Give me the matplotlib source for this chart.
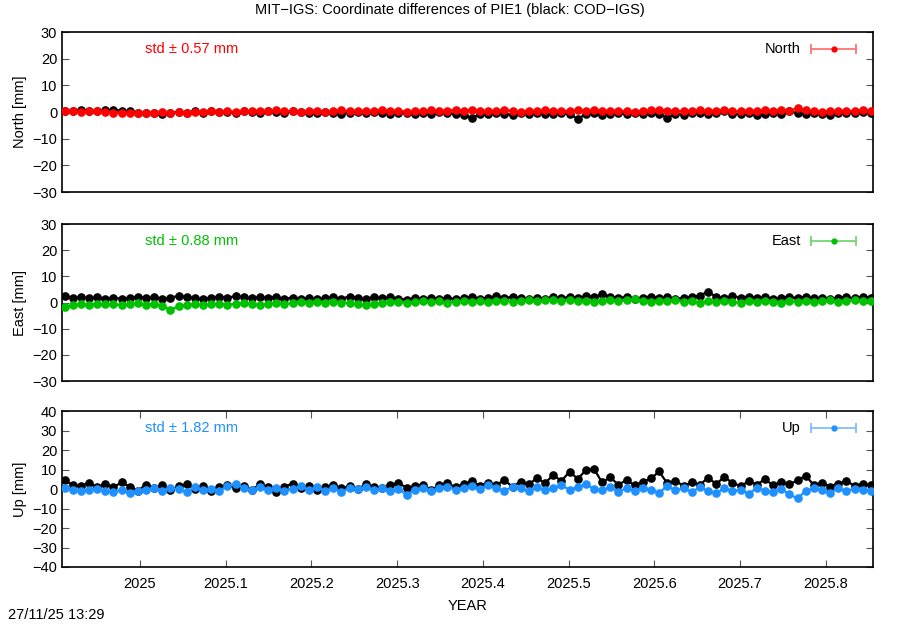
import numpy as np
import matplotlib
matplotlib.use("Agg")
from matplotlib import pyplot as plt

plt.rcParams['font.family'] = ['Liberation Sans', 'DejaVu Sans']

# epochs: regular sampling from start year
t0 = 2024.912
dt = 0.0095
npts = 100

north_mit = [
    0.2, 0.4, -0.1, 0.3, 0.5, 0.1, -0.2, -0.4, -0.3, -0.5,
    -0.2, -0.4, -0.1, -0.3, 0.0, -0.2, 0.1, -0.1, 0.2, 0.0,
    0.3, 0.1, 0.4, 0.2, 0.5, 0.3, 0.6, 0.2, 0.4, 0.1,
    0.5, 0.3, 0.0, 0.4, 0.6, 0.3, 0.5, 0.2, 0.4, 0.7,
    0.3, 0.5, 0.1, 0.4, 0.2, 0.6, 0.3, 0.5, 0.8, 0.4,
    0.6, 0.3, 0.5, 0.2, 0.7, 0.4, 0.1, 0.5, 0.3, 0.6,
    0.4, 0.2, 0.5, 0.7, 0.3, 0.6, 0.4, 0.2, 0.5, 0.3,
    0.1, 0.4, 0.6, 0.9, 0.3, 0.5, 0.2, 0.4, 0.6, 0.3,
    0.5, 0.7, 0.4, 0.2, 0.5, 0.3, 0.6, 0.4, 0.8, 0.5,
    1.4, 0.6, 0.3, 0.1, 0.4, 0.2, 0.5, 0.3, 0.6, 0.4]
north_cod = [
    0.3, 0.5, 0.8, 0.4, 0.2, 0.6, 0.9, 0.4, 0.2, -0.3,
    -0.5, -0.2, -0.6, -0.3, -0.1, -0.4, 0.2, -0.2, 0.3, -0.1,
    0.1, -0.3, 0.4, 0.0, -0.2, 0.3, 0.1, -0.4, 0.2, -0.1,
    -0.5, -0.2, 0.1, -0.3, -0.6, -0.2, 0.0, -0.4, -0.1, -0.3,
    -0.6, -0.2, -0.5, -0.8, -0.3, -0.6, -0.1, -0.4, -0.7, -1.0,
    -2.4, -0.6, -0.9, -0.4, -0.7, -1.1, -0.5, -0.8, -0.3, -0.6,
    -0.9, -0.4, -0.7, -2.6, -0.8, -0.5, -1.0, -0.6, -0.3, -0.8,
    -0.5, -0.9, -0.4, -0.7, -2.2, -0.6, -1.0, -0.5, -0.3, -0.7,
    -0.4, 0.2, -0.6, -0.9, -0.5, -1.2, -0.7, -0.4, -0.8, 0.3,
    -0.5, -0.9, -0.3, -0.6, -1.1, -0.4, -0.2, -0.5, -0.1, -0.3]

east_mit = [
    -1.8, -1.0, -0.6, -0.9, -0.4, -0.7, -0.5, -1.1, -0.6, -0.3,
    -0.8, -0.5, -1.2, -2.8, -1.5, -0.9, -0.6, -1.0, -0.7, -0.4,
    -0.8, -0.5, -0.2, -0.6, -0.9, -0.4, -0.1, -0.5, -0.3, 0.1,
    -0.2, 0.2, -0.1, 0.3, 0.0, -0.3, -0.7, -1.0, -0.5, -0.2,
    0.1, 0.3, -0.1, 0.2, 0.5, 0.1, 0.4, 0.0, 0.3, 0.6,
    0.2, 0.5, 0.1, 0.4, 0.7, 0.3, 0.6, 1.0, 0.5, 0.8,
    1.1, 0.6, 0.9, 0.4, 0.7, 0.3, 0.6, 0.9, 0.5, 0.8,
    1.2, 0.6, 0.3, 0.7, 0.4, 0.9, 0.2, 0.5, 0.0, 0.4,
    0.1, 0.6, 0.3, -0.1, 0.4, 0.2, 0.7, 0.3, 0.0, 0.5,
    0.2, 0.6, 0.1, 0.4, 0.8, 0.3, 0.5, 0.9, 0.4, 0.7]
east_cod = [
    2.4, 1.8, 2.1, 1.6, 2.0, 1.5, 1.9, 1.4, 1.8, 2.2,
    1.6, 2.0, 1.5, 1.8, 2.6, 2.1, 1.7, 1.3, 1.9, 2.3,
    1.8, 2.5, 2.0, 1.6, 2.2, 1.7, 2.1, 1.4, 1.9, 1.5,
    1.8, 1.2, 1.7, 2.0, 1.5, 2.3, 1.9, 1.4, 2.1, 1.6,
    2.0, 1.5, 1.1, 1.7, 1.3, 1.8, 1.4, 1.9, 1.2, 1.6,
    2.1, 1.5, 1.8, 2.4, 1.7, 2.2, 1.6, 1.3, 1.9, 1.5,
    2.0, 1.6, 2.2, 1.7, 2.5, 2.0, 3.1, 2.3, 1.8, 2.1,
    1.5, 1.9, 2.3, 1.7, 2.0, 1.4, 1.8, 2.2, 2.6, 4.2,
    2.1, 1.7, 2.4, 1.9, 2.3, 1.6, 2.0, 1.5, 1.9, 2.2,
    1.7, 2.1, 1.6, 1.9, 1.4, 1.8, 2.0, 1.6, 2.3, 1.8]

up_mit = [
    0.5, -0.5, -1.0, -0.3, 0.2, -0.8, -1.5, -0.6, -2.0, -1.2,
    -0.4, 0.3, -0.9, 0.6, -0.2, -1.3, 0.8, -0.5, 0.2, -0.9,
    1.5, 2.8, 0.4, -0.7, 1.1, -0.3, 0.6, -1.0, 0.2, 1.3,
    -0.4, 0.9, -0.8, 0.3, -1.6, 0.5, -0.2, 1.0, -0.6, 0.4,
    -1.1, 0.2, -3.0, -0.5, 0.7, -0.9, 0.3, 1.2, -0.4, 0.6,
    1.4, -0.2, 2.1, 0.5, -0.8, 1.1, 0.3, -1.2, 0.8, -0.5,
    0.6, 1.8, -0.3, 0.9, 2.4, 0.2, -0.7, 1.0, -1.5, 0.4,
    -1.0, 0.7, -0.4, -2.0, 1.6, -0.6, 0.3, -1.4, 0.8, -0.9,
    -2.3, 0.5, -1.2, -0.3, -2.5, 0.6, -0.8, -1.6, 0.2, -2.8,
    -4.8, -1.0, 0.4, -0.6, -1.8, 0.3, -0.9, 0.1, -0.4, -1.2]
up_cod = [
    4.5, 2.0, 1.5, 3.2, 1.0, 2.6, 0.8, 3.5, 1.2, -0.8,
    2.2, 0.5, 1.8, -0.5, 1.3, 2.5, 0.2, 1.6, -1.0, 0.9,
    2.0, 0.6, 1.4, -0.3, 2.4, 0.8, -1.5, 1.2, 2.8, 0.4,
    1.7, -0.6, 1.0, 2.1, 0.3, 1.5, -0.2, 2.6, 1.1, 0.5,
    1.9, 3.0, 0.7, 1.4, 2.2, -0.4, 1.8, 3.1, 0.9, 2.5,
    4.0, 1.6, 3.3, 2.0, 4.5, 1.2, 3.8, 2.4, 5.6, 3.0,
    7.2, 4.1, 8.9, 5.2, 9.6, 10.3, 3.4, 6.0, 2.2, 4.6,
    1.8, 3.7, 5.4, 9.0, 2.9, 4.3, 1.5, 3.5, 2.1, 5.8,
    2.6, 6.1, 3.2, 1.4, 4.0, 2.3, 5.0, 1.9, 3.6, 2.5,
    4.4, 6.8, 2.0, 3.3, 1.2, 2.8, 4.1, 1.6, 2.7, 1.9]

comp_names = ['North', 'East', 'Up']
comp_colors = ['#ff0000', '#00c000', '#1e90ff']
legend_colors = ['#ff6a6a', '#6ad26a', '#78b8ff']
std_vals = [0.57, 0.88, 1.82]
ylims = [(-30, 30), (-30, 30), (-40, 40)]
xticks = [2025.0, 2025.1, 2025.2, 2025.3, 2025.4, 2025.5, 2025.6, 2025.7, 2025.8]
xtick_labels = ['2025', '2025.1', '2025.2', '2025.3', '2025.4',
                '2025.5', '2025.6', '2025.7', '2025.8']

mit = [north_mit, east_mit, up_mit]
cod = [north_cod, east_cod, up_cod]
t = t0 + dt * np.arange(npts)

fig = plt.figure(figsize=(9, 6.3), dpi=100)
boxes = [[0.0689, 0.6952, 0.9011, 0.254],
         [0.0689, 0.3952, 0.9011, 0.2492],
         [0.0689, 0.1000, 0.9011, 0.2476]]

for k in range(3):
    ax = fig.add_axes(boxes[k])
    ax.plot(t, cod[k], '-o', color='black', ms=5.2, lw=1.6, zorder=2)
    ax.errorbar(t, mit[k], yerr=0.3, fmt='-o', color=comp_colors[k],
                ms=5.2, lw=1.6, elinewidth=0.8, capsize=0, zorder=3)

    # key: label then errorbar sample (in axes fraction)
    ky = 0.893
    ax.text(0.911, ky, comp_names[k], transform=ax.transAxes,
            ha='right', va='center', fontsize=10.5)
    ax.plot([0.924, 0.979], [ky, ky], '-', color=legend_colors[k], lw=1.2,
            transform=ax.transAxes, clip_on=False)
    ax.plot([0.924, 0.979], [ky, ky], '|', color=legend_colors[k], ms=7,
            mew=1.2, transform=ax.transAxes, clip_on=False)
    ax.plot([0.952], [ky], 'o', color=comp_colors[k], ms=3.5,
            transform=ax.transAxes, clip_on=False)

    ax.set_xlim(2024.909, 2025.855)
    ax.set_ylim(*ylims[k])
    lo, hi = ylims[k]
    ax.set_yticks(np.arange(lo, hi + 1, 10))
    ax.set_yticklabels([str(v).replace('-', '\u2212') for v in range(lo, hi + 1, 10)])
    ax.tick_params(axis='y', direction='in', right=True, length=5,
                   color='#555555', labelsize=10.5)
    if k < 2:
        ax.set_xticks([])
    else:
        ax.set_xticks(xticks)
        ax.set_xticklabels(xtick_labels)
        ax.tick_params(axis='x', direction='in', top=True, length=5,
                       color='#555555', labelsize=10.5, pad=7)
        ax.set_xlabel('YEAR', fontsize=10.5, labelpad=6)
    ax.set_ylabel(comp_names[k] + ' [mm]', fontsize=10.5, labelpad=4)
    for s in ax.spines.values():
        s.set_linewidth(1.2)
    ax.text(0.102, 0.893, 'std \u00b1 %.2f mm' % std_vals[k],
            transform=ax.transAxes, color=comp_colors[k], fontsize=10.5,
            ha='left', va='center')

fig.text(0.5, 0.984, 'MIT\u2212IGS: Coordinate differences of PIE1 (black: COD\u2212IGS)',
         ha='center', va='center', fontsize=10.5)
fig.text(0.009, 0.012, '27/11/25 13:29', ha='left', va='bottom', fontsize=10.5)

fig.savefig('out.png', dpi=100)
